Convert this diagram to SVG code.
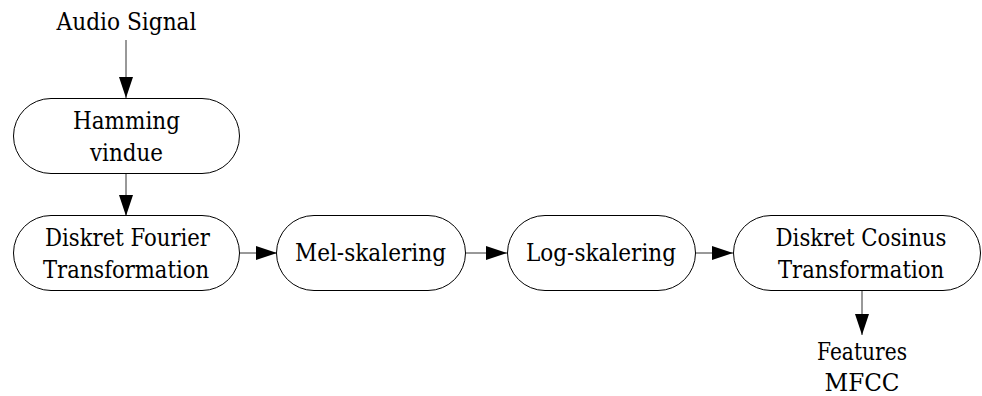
<svg xmlns="http://www.w3.org/2000/svg" width="982" height="396" viewBox="0 0 982 396">
  <style>
    .box { fill: #ffffff; stroke: #000000; stroke-width: 1; }
    .lbl { font-family: 'DejaVu Serif', serif; font-size: 24px; fill: #000000; text-anchor: middle; }
    .wire { stroke: #333333; stroke-width: 1; fill: none; marker-end: url(#head); }
  </style>
  <defs>
    <marker id="head" markerUnits="userSpaceOnUse" markerWidth="21" markerHeight="14" refX="21" refY="7" orient="auto">
      <path d="M0,0 L21,7 L0,14 Z" fill="#000000"/>
    </marker>
  </defs>
  <rect width="982" height="396" fill="#ffffff"/>

  <!-- connectors -->
  <g id="connectors">
    <line class="wire" x1="126" y1="40" x2="126" y2="98"/>
    <line class="wire" x1="126" y1="173" x2="126" y2="216"/>
    <line class="wire" x1="239" y1="253" x2="277" y2="253"/>
    <line class="wire" x1="465" y1="253" x2="507" y2="253"/>
    <line class="wire" x1="695" y1="253" x2="733" y2="253"/>
    <line class="wire" x1="862" y1="290" x2="862" y2="335"/>
  </g>

  <!-- input label -->
  <g id="input">
    <text class="lbl" x="126.5" y="30" textLength="140" lengthAdjust="spacingAndGlyphs">Audio Signal</text>
  </g>

  <g id="hamming">
    <rect class="box" x="13.5" y="98.5" width="226" height="75" rx="37.5" ry="37.5"/>
    <text class="lbl" x="126.5" y="129" textLength="107" lengthAdjust="spacingAndGlyphs">Hamming</text>
    <text class="lbl" x="126.5" y="161" textLength="73" lengthAdjust="spacingAndGlyphs">vindue</text>
  </g>

  <g id="dft">
    <rect class="box" x="13.5" y="215.5" width="226" height="75" rx="37.5" ry="37.5"/>
    <text class="lbl" x="127.5" y="246" textLength="165" lengthAdjust="spacingAndGlyphs">Diskret Fourier</text>
    <text class="lbl" x="126" y="278" textLength="166" lengthAdjust="spacingAndGlyphs">Transformation</text>
  </g>

  <g id="mel">
    <rect class="box" x="276.5" y="215.5" width="189" height="75" rx="37.5" ry="37.5"/>
    <text class="lbl" x="370.5" y="261" textLength="151" lengthAdjust="spacingAndGlyphs">Mel-skalering</text>
  </g>

  <g id="log">
    <rect class="box" x="507.5" y="215.5" width="188" height="75" rx="37.5" ry="37.5"/>
    <text class="lbl" x="601" y="261" textLength="150" lengthAdjust="spacingAndGlyphs">Log-skalering</text>
  </g>

  <g id="dct">
    <rect class="box" x="733.5" y="215.5" width="247" height="75" rx="37.5" ry="37.5"/>
    <text class="lbl" x="861" y="246" textLength="171" lengthAdjust="spacingAndGlyphs">Diskret Cosinus</text>
    <text class="lbl" x="861" y="278" textLength="166" lengthAdjust="spacingAndGlyphs">Transformation</text>
  </g>

  <!-- output label -->
  <g id="output">
    <text class="lbl" x="862" y="360" textLength="90" lengthAdjust="spacingAndGlyphs">Features</text>
    <text class="lbl" x="862" y="391" textLength="75" lengthAdjust="spacingAndGlyphs">MFCC</text>
  </g>
</svg>
